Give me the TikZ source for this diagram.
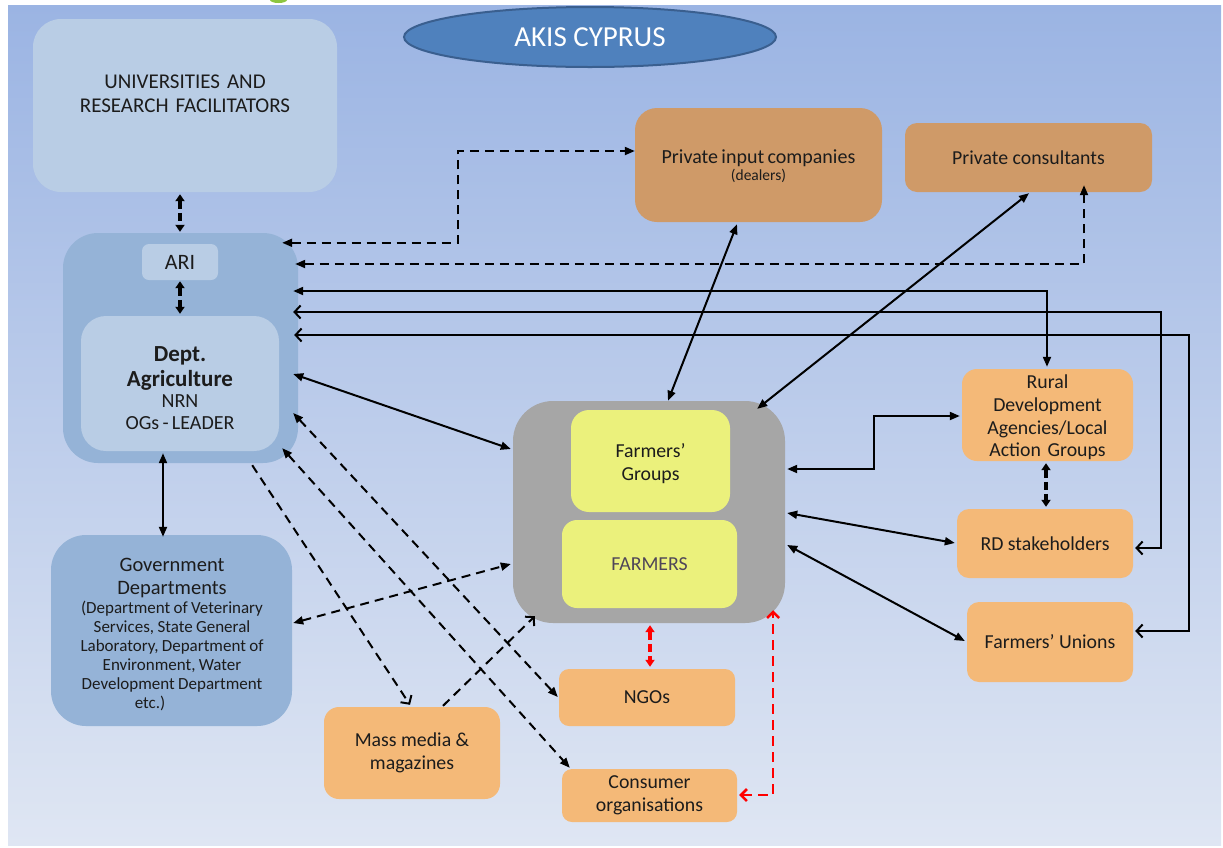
\documentclass[tikz,border=0pt]{standalone}
\usepackage{fontspec}
\setmainfont{Carlito}
\usetikzlibrary{arrows.meta,calc,shapes.geometric}
\definecolor{bgtop}{HTML}{9BB4E3}
\definecolor{bgbot}{HTML}{DFE6F3}
\definecolor{lightbox}{HTML}{B9CDE5}
\definecolor{midbox}{HTML}{95B3D7}
\definecolor{brownbox}{HTML}{CF9A68}
\definecolor{orangebox}{HTML}{F4B978}
\definecolor{greybox}{HTML}{A6A6A6}
\definecolor{yellowbox}{HTML}{EBF17C}
\definecolor{ellfill}{HTML}{4F81BD}
\definecolor{elldraw}{HTML}{3A5F8F}
\definecolor{txt}{HTML}{1C1C1C}
\definecolor{farmtxt}{HTML}{4F4658}
\definecolor{logogreen}{HTML}{8DC63F}
\definecolor{redline}{HTML}{FF0000}
\newcommand\fsz[2]{\fontsize{#1}{#2}\selectfont}
\tikzset{
  box/.style={draw=none, rounded corners=#1, inner sep=0pt, align=center, text=txt, rectangle},
  box/.default=12pt,
  conn/.style={line width=2pt, draw=black},
  fa/.style={{Triangle[length=10pt,width=8pt]}-{Triangle[length=10pt,width=8pt]}},
  fend/.style={-{Triangle[length=10pt,width=8pt]}},
  oa/.style={{Straight Barb[length=6pt,width=13pt]}-{Straight Barb[length=6pt,width=13pt]}},
  oend/.style={-{Straight Barb[length=6pt,width=13pt]}},
  dsh/.style={dash pattern=on 9pt off 6pt},
  thickdsh/.style={line width=3.5pt, dash pattern=on 8pt off 4pt,
    {Triangle[length=7pt,width=9pt]}-{Triangle[length=7pt,width=9pt]}},
  blocktext/.style={align=center, text=txt, inner sep=0pt, text width=#1},
  bodyfont/.style={font=\fsz{19.8}{#1}},
  bodyfont/.default=23,
}
\begin{document}
\begin{tikzpicture}[x=1pt,y=-1pt]
\useasboundingbox (0,0) rectangle (1223,847);
% background
\shade[top color=bgtop, bottom color=bgbot] (8,5) rectangle (1221,845);
\fill[logogreen] (270,0) arc[start angle=180,end angle=0,x radius=8.5,y radius=3] -- cycle;

% title
\node[ellipse, fill=ellfill, draw=elldraw, line width=2pt, minimum width=372, minimum height=60,
      text=white, font=\fsz{29}{32}] (akis) at (590,37) {AKIS CYPRUS};

% left side
\node[box=28pt, fill=lightbox, minimum width=304, minimum height=173] (univ) at (185,105.5) {};
\node[blocktext=300pt, font=\fsz{21}{24.5}] (univtext) at (185,94) {UNIVERSITIES AND\\RESEARCH FACILITATORS};
\node[box=35pt, fill=midbox, minimum width=235, minimum height=230] (ariouter) at (180.5,348) {};
\node[box=7pt, fill=lightbox, minimum width=76, minimum height=36, font=\fsz{22}{24}] (ari) at (180,262) {ARI};
\node[box=25pt, fill=lightbox, minimum width=198, minimum height=135] (dept) at (180,383.5) {};
\node[blocktext=196pt] (depttext) at (180,388)
  {{\fsz{23}{25}\bfseries Dept.\\Agriculture\par}\vspace{-1pt}{\fsz{20}{22}NRN\\OGs - LEADER\par}};
\node[box=35pt, fill=midbox, minimum width=241, minimum height=191] (gov) at (171.5,630.5) {};
\node[blocktext=240pt] (govtext) at (172,634.5)
  {{\fsz{20.5}{23}Government\\Departments\par}\vspace{0pt}
   {\fsz{17}{19}(Department of Veterinary\\Services, State General\\Laboratory, Department of\\Environment, Water\\Development Department\\etc.)\hspace*{44pt}\par}};

% top right
\node[box=22pt, fill=brownbox, minimum width=247, minimum height=114] (pic) at (758.5,165) {};
\node[blocktext=245pt] (pictext) at (758.5,166)
  {{\fsz{20}{21}Private input companies\par}{\fsz{15.5}{17}(dealers)\par}};
\node[box=12pt, fill=brownbox, minimum width=247, minimum height=69, bodyfont] (pcons) at (1028.5,157.5) {Private consultants};

% farmers
\node[box=40pt, fill=greybox, minimum width=272, minimum height=222] (grey) at (649,512) {};
\node[box=18pt, fill=yellowbox, minimum width=159, minimum height=102] (fg) at (650.5,461) {};
\node[blocktext=155pt, bodyfont] (fgtext) at (650.5,463.5) {Farmers’\\Groups};
\node[box=15pt, fill=yellowbox, minimum width=175, minimum height=88, bodyfont, text=farmtxt] (farmers) at (649.5,564) {FARMERS};

% right side
\node[box=15pt, fill=orangebox, minimum width=171, minimum height=92] (rural) at (1047.5,415) {};
\node[blocktext=168pt, bodyfont=22.6] (ruraltext) at (1047.5,417.5) {Rural\\Development\\Agencies/Local\\Action Groups};
\node[box=12pt, fill=orangebox, minimum width=176, minimum height=69, bodyfont] (rds) at (1045,543.5) {RD stakeholders};
\node[box=12pt, fill=orangebox, minimum width=166, minimum height=80, bodyfont] (fu) at (1050,642) {Farmers’ Unions};

% bottom
\node[box=10pt, fill=orangebox, minimum width=176, minimum height=57, bodyfont] (ngo) at (647,697.5) {NGOs};
\node[box=15pt, fill=orangebox, minimum width=176, minimum height=92, bodyfont] (mass) at (412,753) {Mass media \&\\magazines};
\node[box=10pt, fill=orangebox, minimum width=175, minimum height=53, bodyfont] (cons) at (649.5,795.5) {Consumer\\organisations};

% ---------- connectors ----------
% thick dashed vertical
\draw[thickdsh] ($(univ.south)+(-5,2)$) -- ($(ariouter.north)+(-0.5,-1)$);
\draw[thickdsh] ($(ari.south)+(0,1)$) -- ($(dept.north)+(0,-2)$);
\draw[thickdsh] ($(rural.south)+(-1.5,2)$) -- ($(rds.north)+(1,-2)$);

% dashed to private input / consultants
\draw[conn, dsh, fa] ($(ariouter.north east)+(-16,10)$) -- ++(176,0) |- ($(pic.west)+(0,-14)$);
\draw[conn, dsh, fa] ($(ariouter.east)+(-3,-84)$) -| ($(pcons.south)+(55.5,-7)$);

% solid long elbows
\draw[conn, fa] ($(ariouter.east)+(-5,-57)$) -| ($(rural.north)+(-0.5,-2)$);
\draw[conn, oa] ($(ariouter.east)+(-5,-36)$) -- ++(868,0) |- ($(rds.east)+(2,4.5)$);
\draw[conn, oa] ($(ariouter.east)+(-4,-13)$) -- ++(895,0) |- ($(fu.east)+(2,-11)$);

% dept <-> farmers
\draw[conn, fa] ($(ariouter.east)+(-5,26)$) -- ($(grey.west)+(-2,-63)$);
% dashed from dept
\draw[conn, dsh, fa] ($(ariouter.east)+(-5,65)$) -- ($(ngo.west)+(-1,-0.5)$);
\draw[conn, dsh, fa] ($(ariouter.south east)+(-16,-15)$) -- ($(cons.north west)+(8,-1)$);
\draw[conn, dsh, oend] ($(ariouter.south east)+(-46,2)$) -- ($(mass.north)+(-2,-2)$);
% gov <-> farmers
\draw[conn, dsh, fa] ($(gov.east)+(1,-7.5)$) -- ($(grey.west)+(-2,52)$);
% mass media -> farmers
\draw[conn, dsh, oend] ($(mass.north)+(31,-1)$) -- ($(grey.south west)+(22,-7)$);
% gov <-> dept
\draw[conn, fa] ($(gov.north)+(-8.5,2)$) -- ($(dept.south)+(-17,2)$);

% private input / consultants <-> farmers
\draw[conn, fa] ($(pic.south)+(-21.5,2)$) -- ($(grey.north)+(19,0)$);
\draw[conn, fa] ($(pcons.south)+(0.5,1)$) -- ($(grey.north east)+(-28,8)$);

% farmers <-> right boxes
\draw[conn, fa] ($(grey.east)+(2,-43)$) -- ++(87,0) |- ($(rural.west)+(-2,1)$);
\draw[conn, fa] ($(grey.east)+(2,1)$) -- ($(rds.west)+(-2,-0.5)$);
\draw[conn, fa] ($(grey.east)+(2,33)$) -- ($(fu.west)+(-2,-1)$);

% red dashed
\draw[line width=3.5pt, draw=redline, dash pattern=on 8pt off 4pt,
      {Triangle[length=7pt,width=9pt]}-{Triangle[length=7pt,width=9pt]}, redline]
      ($(grey.south)+(1,2)$) -- ($(ngo.north)+(3,-2)$);
\draw[line width=2.5pt, draw=redline, dash pattern=on 10pt off 6pt,
      {Straight Barb[length=6pt,width=12pt]}-{Straight Barb[length=6pt,width=12pt]}]
      ($(cons.east)+(2,-0.5)$) -| ($(grey.south east)+(-12,-13)$);
\end{tikzpicture}
\end{document}
